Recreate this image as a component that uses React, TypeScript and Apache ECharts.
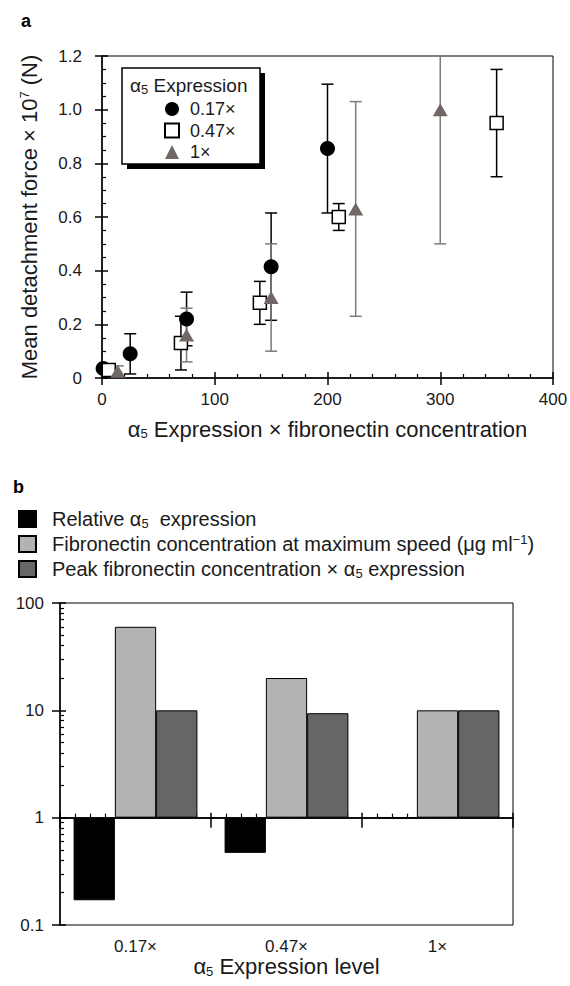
import React, { useEffect, useRef } from 'react';
import * as echarts from 'echarts';

const FONT = '"Liberation Sans", Arial, Helvetica, sans-serif';
const TXT = '#1a1a1a';

// ---------- Panel a data ----------
const seriesNamesA = ['0.17×', '0.47×', '1×'];
const x017 = [1, 25, 75, 150, 200];
const y017 = [0.035, 0.09, 0.22, 0.415, 0.855];
const e017 = [0.01, 0.075, 0.1, 0.2, 0.24];
const x047 = [6, 70, 140, 210, 350];
const y047 = [0.03, 0.13, 0.28, 0.6, 0.95];
const e047 = [0.015, 0.1, 0.08, 0.05, 0.2];
const x1 = [14, 75, 150, 225, 300];
const y1 = [0.025, 0.16, 0.3, 0.63, 1.0];
const e1 = [0.02, 0.1, 0.2, 0.4, 0.5];
const xTicksA = [0, 100, 200, 300, 400];
const yTicksA = [0, 0.2, 0.4, 0.6, 0.8, 1.0, 1.2];

// ---------- Panel b data ----------
const categoriesB = ['0.17×', '0.47×', '1×'];
const seriesNamesB = [
  'Relative α5 expression',
  'Fibronectin concentration at maximum speed (μg ml−1)',
  'Peak fibronectin concentration × α5 expression',
];
const relAlpha5 = [0.17, 0.47, 1];
const fnMaxSpeed = [60, 20, 10];
const peakProduct = [10, 9.4, 10];
const yTicksB = [0.1, 1, 10, 100];

const richLegendB: Record<string, string> = {
  [seriesNamesB[0]]: 'Relative α{sub|5}  expression',
  [seriesNamesB[1]]: 'Fibronectin concentration at maximum speed (μg ml{sup|−1})',
  [seriesNamesB[2]]: 'Peak fibronectin concentration × α{sub|5} expression',
};

const zip3 = (a: number[], b: number[], c: number[]) => a.map((v, i) => [v, b[i], c[i]]);
const zip2 = (a: number[], b: number[]) => a.map((v, i) => [v, b[i]]);

const errRender = (color: string) => (params: any, api: any) => {
  const x = api.value(0);
  const y = api.value(1);
  const e = api.value(2);
  const cs = params.coordSys;
  const top = api.coord([x, y + e]);
  const bot = api.coord([x, y - e]);
  const yMin = cs.y;
  const yMax = cs.y + cs.height;
  const cx = top[0];
  const t = Math.max(top[1], yMin);
  const b = Math.min(bot[1], yMax);
  const hw = 6;
  const st = { stroke: color, lineWidth: 1.5 };
  const children: any[] = [{ type: 'line', shape: { x1: cx, y1: t, x2: cx, y2: b }, style: st }];
  if (top[1] >= yMin) children.push({ type: 'line', shape: { x1: cx - hw, y1: top[1], x2: cx + hw, y2: top[1] }, style: st });
  if (bot[1] <= yMax) children.push({ type: 'line', shape: { x1: cx - hw, y1: bot[1], x2: cx + hw, y2: bot[1] }, style: st });
  return { type: 'group', children };
};

const RICH = {
  sub: { fontSize: 13, fontFamily: FONT, color: TXT, verticalAlign: 'bottom', padding: [9, 0, 0, 0] },
  sup: { fontSize: 13, fontFamily: FONT, color: TXT, verticalAlign: 'top', padding: [0, 0, 8, 0] },
};

export default function App() {
  const ref = useRef<HTMLDivElement>(null);
  useEffect(() => {
    const chart = echarts.init(ref.current!, null, { renderer: 'svg' });
    const axisLine = { show: true, lineStyle: { color: '#000', width: 1.5 } };
    const labelStyle = { fontFamily: FONT, fontSize: 17, color: TXT };
    const option: any = {
      animation: false,
      backgroundColor: '#fff',
      textStyle: { fontFamily: FONT, color: TXT },
      grid: [
        { left: 102, top: 56, width: 451, height: 322, show: true, borderColor: '#000', borderWidth: 1, backgroundColor: 'transparent', outerBoundsMode: 'none' },
        { left: 60, top: 603, width: 453, height: 322, show: true, borderColor: '#000', borderWidth: 1, backgroundColor: 'transparent', outerBoundsMode: 'none' },
      ],
      xAxis: [
        {
          type: 'value', gridIndex: 0, min: xTicksA[0], max: xTicksA[xTicksA.length - 1], interval: 100,
          axisLine, splitLine: { show: false },
          axisTick: { show: true, inside: false, length: 7, lineStyle: { color: '#000', width: 1.5 } },
          axisLabel: { ...labelStyle, margin: 13 },
          name: '{a|α}{sub|5} Expression × fibronectin concentration',
          nameLocation: 'middle', nameGap: 40,
          nameTextStyle: { fontFamily: FONT, fontSize: 22, color: TXT, rich: { a: { fontSize: 22, fontFamily: FONT, color: TXT }, ...RICH } },
        },
        {
          type: 'value', gridIndex: 0, min: 0, max: 400, interval: 100, position: 'bottom',
          axisLine: { show: false }, splitLine: { show: false }, axisLabel: { show: false },
          axisTick: { show: true, inside: true, length: 6, lineStyle: { color: '#000', width: 1.5 } },
          minorTick: { show: true, splitNumber: 5, length: 4, lineStyle: { color: '#000', width: 1.2 } },
        },
        {
          type: 'category', gridIndex: 1, data: categoriesB,
          axisLine, splitLine: { show: false },
          axisTick: { show: true, inside: false, length: 10, interval: 0, lineStyle: { color: '#000', width: 1.5 } },
          axisLabel: { fontFamily: FONT, fontSize: 17, color: TXT, margin: 13 },
          name: 'α{sub|5} Expression level', nameLocation: 'middle', nameGap: 30,
          nameTextStyle: { fontFamily: FONT, fontSize: 22, color: TXT, rich: RICH },
        },
        {
          type: 'value', gridIndex: 1, min: 0, max: 3, interval: 1, position: 'bottom',
          axisLine: { show: false }, splitLine: { show: false }, axisLabel: { show: false },
          axisTick: { show: true, inside: true, length: 5, lineStyle: { color: '#000', width: 1.5 } },
          minorTick: { show: true, splitNumber: 10, length: 4, lineStyle: { color: '#000', width: 1.2 } },
        },
      ],
      yAxis: [
        {
          type: 'value', gridIndex: 0, min: yTicksA[0], max: yTicksA[yTicksA.length - 1], interval: 0.2,
          axisLine, splitLine: { show: false },
          axisTick: { show: true, inside: false, length: 7, lineStyle: { color: '#000', width: 1.5 } },
          axisLabel: { ...labelStyle, margin: 20, formatter: (v: number) => (v === 0 ? '0' : v.toFixed(1)) },
          name: 'Mean detachment force × 10{sup|7} (N)', nameLocation: 'middle', nameGap: 62,
          nameTextStyle: { fontFamily: FONT, fontSize: 22, color: TXT, rich: RICH },
        },
        {
          type: 'value', gridIndex: 0, min: 0, max: 1.2, interval: 0.2, position: 'left',
          axisLine: { show: false }, splitLine: { show: false }, axisLabel: { show: false },
          axisTick: { show: true, inside: true, length: 6, lineStyle: { color: '#000', width: 1.5 } },
          minorTick: { show: true, splitNumber: 4, length: 4, lineStyle: { color: '#000', width: 1.2 } },
        },
        {
          type: 'log', gridIndex: 1, logBase: 10, min: yTicksB[0], max: yTicksB[yTicksB.length - 1],
          axisLine, splitLine: { show: false },
          axisTick: { show: true, inside: false, length: 8, lineStyle: { color: '#000', width: 1.5 } },
          axisLabel: { ...labelStyle, margin: 16, formatter: (v: number) => (v < 1 ? v.toFixed(1) : String(Math.round(v))) },
        },
        {
          type: 'value', gridIndex: 1, min: -1, max: 2, interval: 1, position: 'left',
          axisLine: { show: false }, splitLine: { show: false }, axisLabel: { show: false },
          axisTick: { show: true, inside: true, length: 6, lineStyle: { color: '#000', width: 1.5 } },
        },
        {
          type: 'value', gridIndex: 1, min: -1, max: 2, position: 'left',
          axisLine: { show: false }, splitLine: { show: false }, axisLabel: { show: false },
          axisTick: {
            show: true, inside: true, length: 4, lineStyle: { color: '#000', width: 1.2 },
            customValues: [-1, 0, 1].flatMap((d) => [2, 3, 4, 5, 6, 7, 8, 9].map((m) => d + Math.log10(m))),
          },
        },
      ],
      legend: [
        {
          data: seriesNamesA, orient: 'vertical', left: 159, top: 95,
          itemWidth: 14, itemHeight: 14, itemGap: 3.5, selectedMode: false, z: 6,
          textStyle: { fontFamily: FONT, fontSize: 18, color: TXT, padding: [0, 0, 0, 6] },
        },
        {
          data: seriesNamesB.map((n) => ({ name: n, icon: 'rect' })), icon: 'rect',
          orient: 'vertical', left: 13, top: 503,
          itemWidth: 17, itemHeight: 16, itemGap: 3, selectedMode: false,
          formatter: (name: string) => richLegendB[name] || name,
          textStyle: { fontFamily: FONT, fontSize: 20, lineHeight: 22, color: TXT, padding: [0, 0, 0, 11], rich: RICH },
        },
      ],
      graphic: {
        elements: [
          { type: 'text', left: 21, top: 12, z: 10, style: { text: 'a', font: `bold 18px ${FONT}`, fill: '#000' } },
          { type: 'text', left: 13, top: 478, z: 10, style: { text: 'b', font: `bold 18px ${FONT}`, fill: '#000' } },
          { type: 'rect', z: 3, shape: { x: 127, y: 73, width: 138, height: 96 }, style: { fill: '#000' } },
          { type: 'rect', z: 3, shape: { x: 122, y: 68, width: 138, height: 96 }, style: { fill: '#fff', stroke: '#000', lineWidth: 1.5 } },
          {
            type: 'text', z: 7, x: 130, y: 74,
            style: {
              text: 'α{sub|5} Expression', fill: TXT, font: `19px ${FONT}`,
              rich: { sub: { fontSize: 13, fontFamily: FONT, fill: TXT, verticalAlign: 'bottom', padding: [9, 0, 0, 0] } },
            },
          },
        ],
      },
      series: [
        { type: 'custom', name: 'err017', xAxisIndex: 0, yAxisIndex: 0, data: zip3(x017, y017, e017), renderItem: errRender('#000'), encode: { x: 0, y: 1 }, z: 2 },
        { type: 'custom', name: 'err047', xAxisIndex: 0, yAxisIndex: 0, data: zip3(x047, y047, e047), renderItem: errRender('#000'), encode: { x: 0, y: 1 }, z: 2 },
        { type: 'custom', name: 'err1', xAxisIndex: 0, yAxisIndex: 0, data: zip3(x1, y1, e1), renderItem: errRender('#817878'), encode: { x: 0, y: 1 }, z: 2 },
        {
          type: 'scatter', name: seriesNamesA[0], xAxisIndex: 0, yAxisIndex: 0, data: zip2(x017, y017),
          symbol: 'circle', symbolSize: 15, itemStyle: { color: '#000', opacity: 1 }, z: 3,
        },
        {
          type: 'scatter', name: seriesNamesA[1], xAxisIndex: 0, yAxisIndex: 0, data: zip2(x047, y047),
          symbol: 'rect', symbolSize: 13, itemStyle: { color: '#fff', borderColor: '#000', borderWidth: 1.5, opacity: 1 }, z: 3,
        },
        {
          type: 'scatter', name: seriesNamesA[2], xAxisIndex: 0, yAxisIndex: 0, data: zip2(x1, y1),
          symbol: 'triangle', symbolSize: [15, 13], itemStyle: { color: '#716866', opacity: 1 }, z: 3,
        },
        {
          type: 'bar', name: seriesNamesB[0], xAxisIndex: 2, yAxisIndex: 2, data: relAlpha5,
          barGap: '0%', barCategoryGap: '18%', itemStyle: { color: '#000', borderColor: '#000', borderWidth: 1, borderRadius: 0 },
          markLine: {
            silent: true, symbol: 'none', label: { show: false },
            lineStyle: { color: '#000', type: 'solid', width: 1.5 },
            data: [{ yAxis: 1 }],
          },
        },
        {
          type: 'bar', name: seriesNamesB[1], xAxisIndex: 2, yAxisIndex: 2, data: fnMaxSpeed,
          barGap: '0%', barCategoryGap: '18%', itemStyle: { color: '#b3b3b3', borderColor: '#000', borderWidth: 1, borderRadius: 0 },
        },
        {
          type: 'bar', name: seriesNamesB[2], xAxisIndex: 2, yAxisIndex: 2, data: peakProduct,
          barGap: '0%', barCategoryGap: '18%', itemStyle: { color: '#666666', borderColor: '#000', borderWidth: 1, borderRadius: 0 },
        },
      ],
    };
    chart.setOption(option);
    return () => chart.dispose();
  }, []);
  return <div ref={ref} style={{ position: 'fixed', left: 0, top: 0, width: 570, height: 986 }} />;
}
